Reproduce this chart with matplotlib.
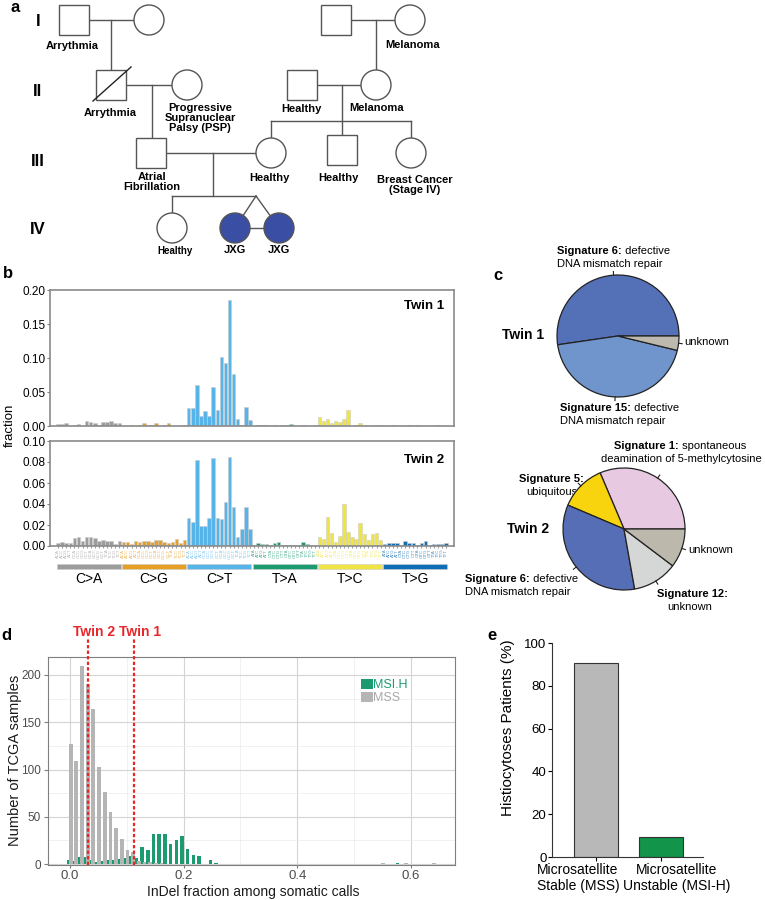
import matplotlib
matplotlib.use('Agg')
import matplotlib.pyplot as plt
import matplotlib.patches as patches
import matplotlib.transforms as mtransforms
from matplotlib.ticker import MultipleLocator
import numpy as np

plt.rcParams['font.family'] = ['Liberation Sans', 'DejaVu Sans']

# ---------------- data ----------------
# panel a: pedigree (id, sex); affected individuals
ped_ids = ['I1', 'I2', 'I3', 'I4', 'II1', 'II2', 'II3', 'II4',
           'III1', 'III2', 'III3', 'III4', 'IV1', 'IV2', 'IV3']
ped_sex = ['M', 'F', 'M', 'F', 'M', 'F', 'M', 'F',
           'M', 'F', 'M', 'F', 'F', 'F', 'F']
ped_affected = ['IV2', 'IV3']
ped_deceased = ['II1']
ped_notes = {
    'I1': 'Arrythmia', 'I4': 'Melanoma', 'II1': 'Arrythmia',
    'II2': 'Progressive\nSupranuclear\nPalsy (PSP)', 'II3': 'Healthy', 'II4': 'Melanoma',
    'III1': 'Atrial\nFibrillation', 'III2': 'Healthy', 'III3': 'Healthy',
    'III4': 'Breast Cancer\n(Stage IV)', 'IV1': 'Healthy', 'IV2': 'JXG', 'IV3': 'JXG',
}
generations = ['I', 'II', 'III', 'IV']

# panel b: 96-channel mutational spectra
mut_types = ['C>A', 'C>G', 'C>T', 'T>A', 'T>C', 'T>G']
twin1_fraction = [
    0.003, 0.003, 0.005, 0.000, 0.001, 0.003, 0.000, 0.008, 0.006, 0.004, 0.001, 0.006, 0.006, 0.008, 0.004, 0.004,
    0.000, 0.000, 0.001, 0.000, 0.001, 0.005, 0.002, 0.002, 0.004, 0.000, 0.002, 0.004, 0.000, 0.000, 0.002, 0.002,
    0.026, 0.026, 0.060, 0.015, 0.022, 0.015, 0.057, 0.024, 0.102, 0.093, 0.185, 0.077, 0.011, 0.001, 0.028, 0.009,
    0.000, 0.001, 0.001, 0.001, 0.000, 0.001, 0.000, 0.001, 0.001, 0.003, 0.000, 0.000, 0.001, 0.000, 0.000, 0.001,
    0.013, 0.008, 0.011, 0.004, 0.008, 0.006, 0.011, 0.024, 0.000, 0.002, 0.004, 0.002, 0.000, 0.002, 0.002, 0.002,
    0.000, 0.000, 0.001, 0.000, 0.000, 0.000, 0.001, 0.000, 0.001, 0.000, 0.000, 0.000, 0.000, 0.001, 0.000, 0.000,
]
twin2_fraction = [
    0.0025, 0.0035, 0.0025, 0.0025, 0.0075, 0.009, 0.0045, 0.009, 0.009, 0.008, 0.005, 0.006, 0.005, 0.005, 0.0015, 0.005,
    0.004, 0.004, 0.0015, 0.005, 0.004, 0.005, 0.005, 0.004, 0.0055, 0.006, 0.004, 0.003, 0.0035, 0.007, 0.003, 0.0055,
    0.027, 0.023, 0.082, 0.019, 0.019, 0.027, 0.084, 0.027, 0.026, 0.042, 0.085, 0.037, 0.009, 0.016, 0.037, 0.016,
    0.001, 0.003, 0.002, 0.002, 0.0005, 0.0025, 0.004, 0.001, 0.001, 0.0005, 0.0005, 0.001, 0.004, 0.002, 0.001, 0.0005,
    0.009, 0.007, 0.028, 0.012, 0.004, 0.010, 0.040, 0.013, 0.009, 0.007, 0.022, 0.011, 0.006, 0.011, 0.012, 0.006,
    0.002, 0.003, 0.003, 0.003, 0.001, 0.005, 0.003, 0.003, 0.001, 0.003, 0.005, 0.001, 0.002, 0.002, 0.002, 0.003,
]

# panel c: signature contributions (%)
twin1_signatures = ['Signature 6', 'Signature 15', 'unknown']
twin1_share = [52.3, 43.9, 3.8]
twin2_signatures = ['Signature 1', 'Signature 5', 'Signature 6', 'Signature 12', 'unknown']
twin2_share = [31.4, 12.2, 34.2, 11.9, 10.3]

# panel d: TCGA InDel fraction histogram (bin width 0.01)
indel_bins = [0.00, 0.01, 0.02, 0.03, 0.04, 0.05, 0.06, 0.07, 0.08, 0.09,
              0.10, 0.11, 0.12, 0.13, 0.14, 0.15, 0.16, 0.17, 0.18, 0.19,
              0.20, 0.21, 0.22, 0.23, 0.24, 0.25, 0.26, 0.55, 0.58, 0.59, 0.64]
mss_counts = [127, 109, 209, 190, 164, 103, 76, 55, 38, 27,
              15, 13, 3, 2, 2, 1, 1, 0, 0, 0,
              0, 0, 0, 0, 0, 0, 0, 1, 0, 1, 1]
msih_counts = [4, 3, 7, 7, 4, 2, 3, 4, 4, 5,
               6, 9, 6, 18, 15, 32, 32, 32, 21, 25,
               30, 16, 10, 9, 0, 4, 1, 0, 1, 0, 0]
twin_labels = ['Twin 2', 'Twin 1']
twin_indel = [0.031, 0.113]

# panel e
stability_groups = ['Microsatellite\nStable (MSS)', 'Microsatellite\nUnstable (MSI-H)']
patient_pct = [90.5, 9.5]

# ---------------- figure ----------------
W, H = 765, 900
fig = plt.figure(figsize=(W / 100, H / 100), dpi=100)
fig.patch.set_facecolor('white')


def add_axes_px(left, top, right, bottom):
    return fig.add_axes([left / W, 1 - bottom / H, (right - left) / W, (bottom - top) / H])


# overlay in pixel coordinates (pedigree, letters, pie labels)
ax_bg = fig.add_axes([0, 0, 1, 1])
ax_bg.set_xlim(0, W)
ax_bg.set_ylim(H, 0)
ax_bg.axis('off')

for letter, (lx, ly) in zip('abcde', [(15, 8), (8, 273), (498, 276), (6, 636), (492, 636)]):
    ax_bg.text(lx, ly, letter, fontsize=12, fontweight='bold', ha='center', va='center')

# ---- panel a: pedigree ----
LINE = '#555555'
ped_pos = {'I1': (74, 20), 'I2': (149, 20), 'I3': (336, 20), 'I4': (410, 20),
           'II1': (111, 85), 'II2': (187, 85), 'II3': (302, 85), 'II4': (376, 85),
           'III1': (151, 153), 'III2': (271, 153), 'III3': (342, 150), 'III4': (411, 153),
           'IV1': (172, 228), 'IV2': (235, 228), 'IV3': (279, 228)}
note_pos = {'I1': (72, 46), 'I4': (413, 45), 'II1': (110, 113), 'II2': (200, 118),
            'II3': (301, 109), 'II4': (377, 108), 'III1': (152, 182), 'III2': (269, 178),
            'III3': (338, 178), 'III4': (415, 185), 'IV1': (175, 251), 'IV2': (235, 250),
            'IV3': (279, 250)}
ped_lines = [((89, 20), (134, 20)), ((111, 20), (111, 70)),
             ((351, 20), (395, 20)), ((376, 20), (376, 70)),
             ((126, 85), (172, 85)), ((152, 85), (152, 138)),
             ((317, 85), (361, 85)), ((342, 85), (342, 135)),
             ((271, 121), (411, 121)), ((271, 121), (271, 138)), ((411, 121), (411, 138)),
             ((166, 153), (256, 153)), ((213, 153), (213, 196)),
             ((172, 196), (256, 196)), ((172, 196), (172, 213)),
             ((256, 196), (235, 228)), ((256, 196), (279, 228)), ((235, 228), (279, 228))]
for (x1, y1), (x2, y2) in ped_lines:
    ax_bg.plot([x1, x2], [y1, y2], color=LINE, lw=1, zorder=2)

for pid, sex in zip(ped_ids, ped_sex):
    x, y = ped_pos[pid]
    fc = '#3a4fa3' if pid in ped_affected else 'white'
    if sex == 'M':
        ax_bg.add_patch(patches.Rectangle((x - 15, y - 15), 30, 30, fc=fc, ec=LINE, lw=1, zorder=3))
    else:
        ax_bg.add_patch(patches.Circle((x, y), 15, fc=fc, ec=LINE, lw=1, zorder=3))
    if pid in ped_deceased:
        ax_bg.plot([x - 18, x + 20], [y + 16, y - 18], color='#222222', lw=1, zorder=4)
    if pid in ped_notes:
        nx, ny = note_pos[pid]
        ax_bg.text(nx, ny, ped_notes[pid], fontsize=7 if pid == 'IV1' else 8, fontweight='bold',
                   ha='center', va='center', linespacing=0.95)

for gen, gy in zip(generations, [22, 91, 162, 229]):
    ax_bg.text(38, gy, gen, fontsize=12, fontweight='bold', ha='center', va='center')

# ---- panel b: spectra ----
cat_colors = ['#9c9c9c', '#e69f24', '#56b4e9', '#1b9a72', '#f0e442', '#0f6db3']
bar_colors = [c for c in cat_colors for _ in range(16)]
contexts = [f'{a}{m[0]}{b}' for m in mut_types for a in 'ACGT' for b in 'ACGT']
xpos = np.arange(len(twin1_fraction))

ax1 = add_axes_px(50, 290, 454, 426)
ax2 = add_axes_px(50, 441, 454, 546)
for ax, vals, ymax, step, name in [(ax1, twin1_fraction, 0.20, 0.05, 'Twin 1'),
                                   (ax2, twin2_fraction, 0.10, 0.02, 'Twin 2')]:
    ax.bar(xpos, vals, width=0.85, color=bar_colors, edgecolor='#cccccc', linewidth=0.4)
    ax.set_xlim(-1.97, 96.97)
    ax.set_ylim(0, ymax)
    ax.yaxis.set_major_locator(MultipleLocator(step))
    ax.yaxis.set_major_formatter(matplotlib.ticker.FormatStrFormatter('%.2f'))
    ax.tick_params(axis='y', labelsize=8.5, length=2, pad=1, color='#808080')
    for s in ax.spines.values():
        s.set_color('#8a8a8a')
        s.set_linewidth(1.2)
    ax.text(0.975, 0.88 if name == 'Twin 1' else 0.82, name, transform=ax.transAxes,
            ha='right', va='center', fontsize=9.5, fontweight='bold')

ax1.set_xticks([])
ax2.set_xticks(xpos)
ax2.set_xticklabels(contexts, rotation=90, fontsize=3.2)
ax2.tick_params(axis='x', length=1.5, pad=0.5, color='#999999')
for lab, c in zip(ax2.get_xticklabels(), bar_colors):
    lab.set_color(c)
    lab.set_alpha(0.75)

trans2 = mtransforms.blended_transform_factory(ax2.transData, ax2.transAxes)
for i, (mt, c) in enumerate(zip(mut_types, cat_colors)):
    ax2.add_patch(patches.Rectangle((16 * i - 0.35, -0.219), 15.7, 0.048, transform=trans2,
                                    clip_on=False, fc=c, ec='#cccccc', lw=0.4))
    ax2.text(16 * i + 7.5, -0.31, mt, transform=trans2, ha='center', va='center', fontsize=10)

ax_bg.text(10, 425, 'fraction', rotation=90, fontsize=9.5, ha='center', va='center')

# ---- panel c: signature pies ----
PIE_EDGE = '#222222'


def mixed(x, y, bold, regular, size=8):
    t = ax_bg.text(x, y, bold, fontsize=size, fontweight='bold', ha='left', va='bottom')
    ax_bg.annotate(' ' + regular, xy=(1, 0), xycoords=t, ha='left', va='bottom', fontsize=size)


def draw_pie(box, shares, colors):
    ax = add_axes_px(*box)
    wedges, _ = ax.pie(shares, colors=colors, startangle=0, counterclock=True, radius=1,
                       wedgeprops=dict(edgecolor=PIE_EDGE, linewidth=0.9))
    ax.set_xlim(-1, 1)
    ax.set_ylim(-1, 1)
    for w in wedges:
        w.set_clip_on(False)
        mid = np.deg2rad((w.theta1 + w.theta2) / 2)
        ax.plot([np.cos(mid), 1.06 * np.cos(mid)], [np.sin(mid), 1.06 * np.sin(mid)],
                color=PIE_EDGE, lw=0.8, clip_on=False)
    return ax


draw_pie((557, 275, 679, 397), twin1_share, ['#5470b6', '#7094cc', '#bdb9ae'])
mixed(557, 256, twin1_signatures[0] + ':', 'defective')
ax_bg.text(557, 264, 'DNA mismatch repair', fontsize=8, ha='left', va='center')
mixed(560, 413, twin1_signatures[1] + ':', 'defective')
ax_bg.text(560, 421, 'DNA mismatch repair', fontsize=8, ha='left', va='center')
ax_bg.text(684, 342, twin1_signatures[2], fontsize=8, ha='left', va='center')
ax_bg.text(523, 335, 'Twin 1', fontsize=10, fontweight='bold', ha='center', va='center')

draw_pie((563, 468, 685, 590), twin2_share, ['#e8c9e2', '#f7d40d', '#566eb5', '#d4d7d6', '#bcb8ac'])
mixed(614, 451, twin2_signatures[0] + ':', 'spontaneous')
ax_bg.text(681, 459, 'deamination of 5-methylcytosine', fontsize=8, ha='center', va='center')
ax_bg.text(551, 479, twin2_signatures[1] + ':', fontsize=8, fontweight='bold', ha='center', va='center')
ax_bg.text(552, 492, 'ubiquitous', fontsize=8, ha='center', va='center')
ax_bg.text(528, 529, 'Twin 2', fontsize=10, fontweight='bold', ha='center', va='center')
mixed(465, 584, twin2_signatures[2] + ':', 'defective')
ax_bg.text(465, 592, 'DNA mismatch repair', fontsize=8, ha='left', va='center')
ax_bg.text(688, 550, twin2_signatures[4], fontsize=8, ha='left', va='center')
ax_bg.text(692, 594, twin2_signatures[3] + ':', fontsize=8, fontweight='bold', ha='center', va='center')
ax_bg.text(690, 607, 'unknown', fontsize=8, ha='center', va='center')

# ---- panel d: TCGA histogram ----
GREEN_D = '#1c9b70'
GRAY_D = '#b5b5b5'
axd = add_axes_px(48, 657, 455, 865)
bins = np.array(indel_bins)
axd.bar(bins - 0.003, msih_counts, width=0.0062, color=GREEN_D, zorder=2, label='MSI.H')
axd.bar(bins + 0.001, mss_counts, width=0.0068, color=GRAY_D, zorder=2, label='MSS')
axd.set_xlim(-0.039, 0.678)
axd.set_ylim(-1, 219)
axd.xaxis.set_major_locator(MultipleLocator(0.2))
axd.xaxis.set_minor_locator(MultipleLocator(0.1))
axd.yaxis.set_major_locator(MultipleLocator(50))
axd.yaxis.set_minor_locator(MultipleLocator(25))
axd.xaxis.set_major_formatter(matplotlib.ticker.FormatStrFormatter('%.1f'))
axd.grid(which='major', color='#d4d4d4', lw=0.8, zorder=0)
axd.grid(which='minor', color='#ebebeb', lw=0.5, zorder=0)
axd.set_axisbelow(True)
axd.tick_params(axis='x', which='major', labelsize=9.5, length=2.5, color='#7f7f7f', labelcolor='#4d4d4d', pad=1)
axd.tick_params(axis='y', which='major', labelsize=8.5, length=3, color='#7f7f7f', labelcolor='#4d4d4d', pad=2)
axd.tick_params(which='minor', length=0)
for s in axd.spines.values():
    s.set_color('#7f7f7f')
    s.set_linewidth(0.8)

transd = mtransforms.blended_transform_factory(axd.transData, axd.transAxes)
for lab, v in zip(twin_labels, twin_indel):
    axd.plot([v, v], [0, 1.085], transform=transd, color='#e8262a', lw=1.6,
             ls=(0, (1.5, 1.0)), clip_on=False, zorder=5)
    axd.text(v + 0.011, 1.12, lab, transform=transd, color='#e8262a', fontsize=10,
             fontweight='bold', ha='center', va='center')

leg = axd.legend(loc='upper left', bbox_to_anchor=(0.77, 0.895), frameon=False, fontsize=9,
                 handlelength=0.9, handleheight=0.9, handletextpad=0.05, labelspacing=0.05,
                 borderaxespad=0, borderpad=0)
for txt, c in zip(leg.get_texts(), [GREEN_D, '#a8a8a8']):
    txt.set_color(c)

ax_bg.text(15, 760, 'Number of TCGA samples', rotation=90, fontsize=10.5, ha='center', va='center',
           color='#1a1a1a')
ax_bg.text(253, 892, 'InDel fraction among somatic calls', fontsize=10, ha='center', va='center',
           color='#1a1a1a')

# ---- panel e: histiocytoses patients ----
axe = add_axes_px(552, 643, 703, 857)
axe.bar([0, 1], patient_pct, width=0.68, color=['#b8b8b8', '#12944a'], edgecolor='#333333', lw=0.8)
axe.set_xlim(-0.677, 1.646)
axe.set_ylim(0, 100)
axe.yaxis.set_major_locator(MultipleLocator(20))
axe.spines['top'].set_visible(False)
axe.spines['right'].set_visible(False)
for s in ['left', 'bottom']:
    axe.spines[s].set_color('#333333')
    axe.spines[s].set_linewidth(0.8)
axe.tick_params(axis='y', labelsize=9.5, length=3, pad=1)
axe.set_xticks([0, 1])
axe.set_xticklabels(['', ''])
axe.tick_params(axis='x', length=3)
for i, (grp, dx) in enumerate(zip(stability_groups, [-18, 16])):
    axe.annotate(grp, xy=(i, 0), xycoords=('data', 'axes fraction'), xytext=(dx, -6),
                 textcoords='offset pixels', ha='center', va='top', fontsize=10, linespacing=1.2)
ax_bg.text(508, 728, 'Histiocytoses Patients (%)', rotation=90, fontsize=11, ha='center', va='center')

fig.savefig('out.png', dpi=100, facecolor='white')
